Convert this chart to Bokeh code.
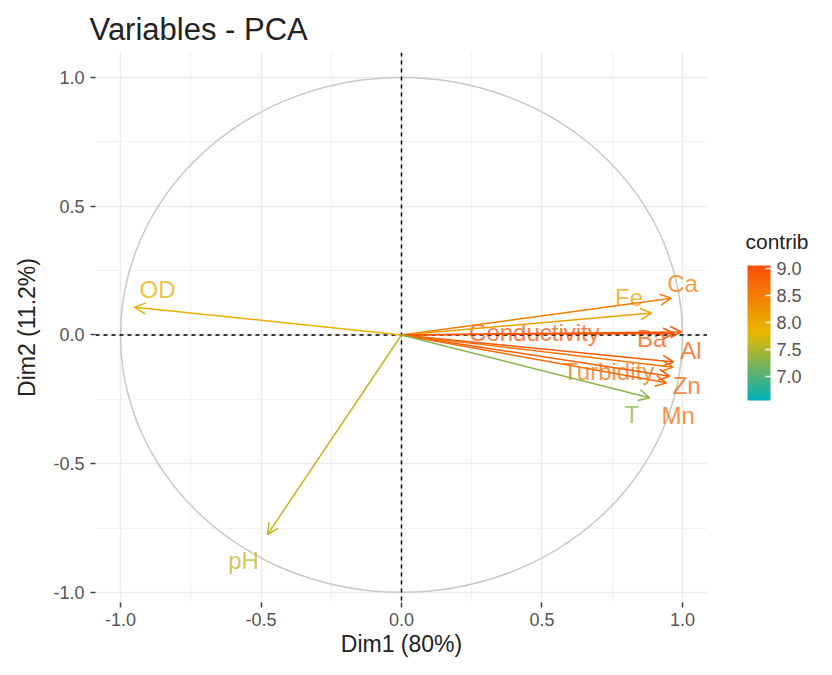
from bokeh.plotting import figure
from bokeh.layouts import row
from bokeh.models import (Range1d, Span, Arrow, OpenHead, ColumnDataSource,
                          LinearColorMapper, ColorBar, FixedTicker, NumeralTickFormatter)
from bokeh.embed import file_html
from bokeh.resources import INLINE
from bokeh.core.properties import value

# ---- data ----
variables = ["OD", "pH", "Ca", "Fe", "Conductivity", "Ba", "Al", "Turbidity", "Zn", "Mn", "T"]
dim1 = [-0.95, -0.477, 0.96, 0.89, 0.996, 0.97, 0.968, 0.966, 0.954, 0.943, 0.883]
dim2 = [0.108, -0.775, 0.143, 0.085, 0.012, 0.006, -0.105, -0.125, -0.16, -0.186, -0.244]
contrib = [7.9, 7.6, 8.5, 8.1, 9.0, 8.95, 8.9, 8.6, 8.85, 8.7, 7.3]
# repelled label positions
label_x = [-0.868, -0.562, 1.0, 0.81, 0.473, 0.89, 1.03, 0.737, 1.015, 0.985, 0.82]
label_y = [0.178, -0.876, 0.2, 0.147, 0.01, -0.012, -0.062, -0.14, -0.198, -0.314, -0.31]

x_ticks = [-1.0, -0.5, 0.0, 0.5, 1.0]
y_ticks = [-1.0, -0.5, 0.0, 0.5, 1.0]
minor_ticks = [-0.75, -0.25, 0.25, 0.75]
legend_ticks = [7.0, 7.5, 8.0, 8.5, 9.0]
legend_title = "contrib"
contrib_low, contrib_high = 6.55, 9.05

# gradient palette  #00AFBB -> #E7B800 -> #FC4E07
def hex2rgb(h):
    h = h.lstrip("#")
    return [int(h[i:i + 2], 16) for i in (0, 2, 4)]

stops = [hex2rgb("#00AFBB"), hex2rgb("#E7B800"), hex2rgb("#FC4E07")]
palette = []
n = 256
for i in range(n):
    t = i / (n - 1) * 2
    k = min(int(t), 1)
    f = t - k
    c = [round(stops[k][j] + (stops[k + 1][j] - stops[k][j]) * f) for j in range(3)]
    palette.append("#%02x%02x%02x" % tuple(c))

mapper = LinearColorMapper(palette=palette, low=contrib_low, high=contrib_high)
cmap = {"field": "contrib", "transform": mapper}

src = ColumnDataSource(dict(name=variables, x=dim1, y=dim2, contrib=contrib,
                            lx=label_x, ly=label_y))

FONT = "Liberation Sans"
H = 659

p = figure(width=707, height=H, output_backend="svg", toolbar_location=None,
           x_range=Range1d(-1.089, 1.089), y_range=Range1d(-1.039, 1.097),
           min_border_left=95, min_border_right=0, min_border_top=52, min_border_bottom=55,
           title="Variables - PCA")
p.outline_line_color = None
p.background_fill_color = "white"

p.title.text_font = FONT
p.title.text_font_size = "31px"
p.title.text_font_style = "normal"
p.title.text_color = "#222222"
p.title.offset = -6
p.title.standoff = 12

for ax, ticks in ((p.xaxis, x_ticks), (p.yaxis, y_ticks)):
    ax.ticker = FixedTicker(ticks=ticks, minor_ticks=minor_ticks)
    ax.formatter = NumeralTickFormatter(format="0.0")
    ax.axis_line_color = None
    ax.major_tick_in = 0
    ax.major_tick_out = 5
    ax.major_tick_line_color = "#444444"
    ax.major_tick_line_width = 1.5
    ax.minor_tick_line_color = None
    ax.major_label_text_font = FONT
    ax.major_label_text_font_size = "18px"
    ax.major_label_text_color = "#555555"
    ax.axis_label_text_font = FONT
    ax.axis_label_text_font_size = "23px"
    ax.axis_label_text_font_style = "normal"
    ax.axis_label_text_color = "#222222"
p.xaxis.axis_label = "Dim1 (80%)"
p.yaxis.axis_label = "Dim2 (11.2%)"
p.xaxis.major_label_standoff = 5
p.yaxis.major_label_standoff = 6
p.xaxis.axis_label_standoff = 2
p.yaxis.axis_label_standoff = 10

for g in (p.xgrid, p.ygrid):
    g.grid_line_color = "#EBEBEB"
    g.grid_line_width = 1.5
    g.minor_grid_line_color = "#F2F2F2"
    g.minor_grid_line_width = 1.2

# unit circle
p.ellipse(x=0, y=0, width=2, height=2, fill_color=None, line_color="#C8C8C8", line_width=1.5)

# dashed axes
p.add_layout(Span(location=0, dimension="height", line_color="black", line_dash="4 4", line_width=1.5))
p.add_layout(Span(location=0, dimension="width", line_color="black", line_dash="4 4", line_width=1.5))

# arrows
p.add_layout(Arrow(source=src, x_start=0, y_start=0, x_end="x", y_end="y",
                   line_color=cmap, line_width=1.5,
                   end=OpenHead(size=11, line_color=cmap, line_width=1.5)))

# labels
p.text(x="lx", y="ly", text="name", source=src, text_color=cmap, text_alpha=0.75,
       text_align="center", text_baseline="middle", text_font=value(FONT),
       text_font_size="24px")

# ---- legend panel (colour bar + its title), sharing the main y scale ----
q = figure(width=109, height=H, output_backend="svg", toolbar_location=None,
           x_range=Range1d(0, 109), y_range=p.y_range,
           min_border=0, outline_line_color=None)
q.axis.visible = False
q.grid.visible = False
q.text(x=[38], y=[0.364], text=[legend_title], text_font=value(FONT),
       text_font_size="21px", text_color="#222222", text_baseline="middle", text_align="left")

cb = ColorBar(color_mapper=mapper, title=None, width=23, height=135,
              ticker=FixedTicker(ticks=legend_ticks),
              formatter=NumeralTickFormatter(format="0.0"),
              location=(40, 202),
              padding=0,
              major_label_text_font=FONT, major_label_text_font_size="18px",
              major_label_text_color="#555555", major_tick_in=5, major_tick_out=0,
              major_tick_line_color="white", major_tick_line_width=1.5,
              bar_line_color=None, border_line_color=None, background_fill_color=None,
              label_standoff=6)
q.add_layout(cb, "center")

layout = row(p, q, spacing=0)
open("out.html", "w").write(file_html(layout, INLINE))
